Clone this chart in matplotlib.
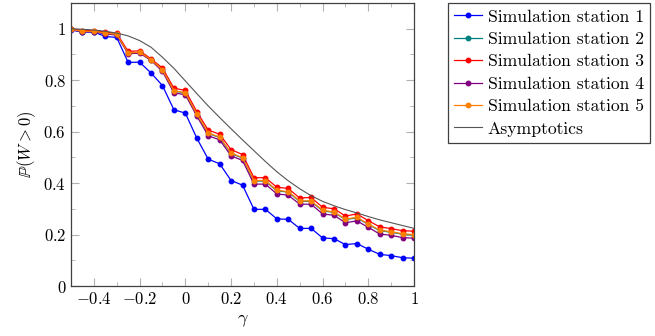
import matplotlib
matplotlib.use('Agg')
import matplotlib.pyplot as plt
from matplotlib.ticker import MultipleLocator, FuncFormatter

plt.rcParams['font.family'] = 'serif'
plt.rcParams['font.serif'] = ['cmr10']
plt.rcParams['mathtext.fontset'] = 'cm'
plt.rcParams['axes.formatter.use_mathtext'] = True

# data
gamma = [-0.5, -0.45, -0.4, -0.35, -0.3, -0.25, -0.2, -0.15, -0.1, -0.05, 0.0,
         0.05, 0.1, 0.15, 0.2, 0.25, 0.3, 0.35, 0.4, 0.45, 0.5,
         0.55, 0.6, 0.65, 0.7, 0.75, 0.8, 0.85, 0.9, 0.95, 1.0]

station1 = [0.995, 0.987, 0.987, 0.970, 0.966, 0.869, 0.870, 0.828, 0.779, 0.685, 0.672,
            0.575, 0.493, 0.475, 0.410, 0.392, 0.298, 0.298, 0.261, 0.259, 0.224,
            0.224, 0.187, 0.184, 0.161, 0.165, 0.143, 0.123, 0.118, 0.110, 0.108]
station2 = [0.998, 0.989, 0.989, 0.982, 0.977, 0.905, 0.908, 0.878, 0.839, 0.758, 0.750,
            0.666, 0.593, 0.577, 0.515, 0.497, 0.408, 0.408, 0.370, 0.365, 0.329,
            0.329, 0.292, 0.286, 0.258, 0.265, 0.239, 0.215, 0.209, 0.201, 0.198]
station3 = [1.000, 0.993, 0.993, 0.987, 0.982, 0.912, 0.914, 0.883, 0.847, 0.769, 0.760,
            0.678, 0.606, 0.590, 0.530, 0.511, 0.421, 0.421, 0.384, 0.379, 0.342,
            0.344, 0.306, 0.300, 0.272, 0.280, 0.254, 0.230, 0.223, 0.215, 0.213]
station4 = [0.997, 0.988, 0.988, 0.980, 0.975, 0.903, 0.905, 0.877, 0.834, 0.751, 0.743,
            0.661, 0.584, 0.568, 0.506, 0.488, 0.396, 0.396, 0.358, 0.353, 0.318,
            0.318, 0.280, 0.275, 0.246, 0.253, 0.228, 0.202, 0.197, 0.188, 0.186]
station5 = [0.998, 0.990, 0.990, 0.983, 0.978, 0.906, 0.909, 0.879, 0.840, 0.759, 0.751,
            0.668, 0.595, 0.579, 0.517, 0.499, 0.410, 0.410, 0.372, 0.367, 0.331,
            0.331, 0.294, 0.288, 0.260, 0.267, 0.241, 0.217, 0.211, 0.203, 0.200]
asymptotics = [1.000, 0.998, 0.995, 0.990, 0.983, 0.972, 0.954, 0.928, 0.889, 0.846, 0.797,
               0.748, 0.700, 0.655, 0.611, 0.568, 0.526, 0.484, 0.444, 0.409, 0.378,
               0.351, 0.329, 0.312, 0.297, 0.284, 0.270, 0.257, 0.246, 0.235, 0.224]

labels = ['Simulation station 1', 'Simulation station 2', 'Simulation station 3',
          'Simulation station 4', 'Simulation station 5']
colors = ['#0000ff', '#008080', '#ff0000', '#800080', '#ff8000']

fig = plt.figure(figsize=(6.55, 3.36), dpi=100)
ax = fig.add_axes([0.1084, 0.1488, 0.5237, 0.8423])

for ys, lab, col in zip([station1, station2, station3, station4, station5], labels, colors):
    ax.plot(gamma, ys, color=col, lw=0.9, marker='o', ms=3.2, label=lab)
ax.plot(gamma, asymptotics, color='#555555', lw=0.8, label='Asymptotics')

ax.set_xlim(-0.5, 1)
ax.set_ylim(0, 1.1)
ax.xaxis.set_major_locator(MultipleLocator(0.2))
ax.xaxis.set_minor_locator(MultipleLocator(0.1))
ax.yaxis.set_major_locator(MultipleLocator(0.2))
ax.yaxis.set_minor_locator(MultipleLocator(0.1))
fmt = FuncFormatter(lambda v, p: '$%g$' % round(v, 2))
ax.xaxis.set_major_formatter(fmt)
ax.yaxis.set_major_formatter(fmt)
ax.tick_params(which='both', direction='in', top=True, right=True, color='#b0b0b0',
               labelsize=12)
ax.tick_params(which='major', length=6)
ax.tick_params(which='minor', length=3)
for s in ax.spines.values():
    s.set_color('#404040')
    s.set_linewidth(0.9)

ax.set_xlabel(r'$\gamma$', fontsize=13, labelpad=4)
ax.set_ylabel(r'$\mathbb{P}(W > 0)$', fontsize=12, labelpad=4)

leg = fig.legend(loc='upper left', bbox_to_anchor=(0.684, 0.991), fontsize=12.7,
                 fancybox=False, edgecolor='#404040', framealpha=1,
                 handlelength=1.6, handletextpad=0.3, borderpad=0.35, labelspacing=0.4,
                 borderaxespad=0)
leg.get_frame().set_linewidth(0.9)

fig.savefig('out.png', dpi=100)
